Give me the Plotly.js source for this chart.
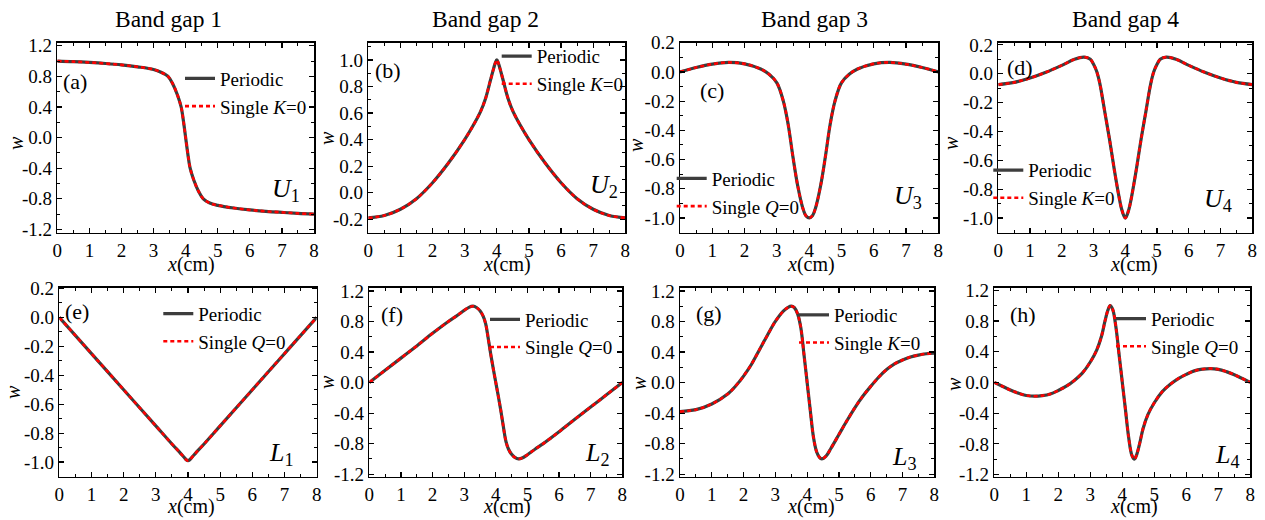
<!DOCTYPE html>
<html><head><meta charset="utf-8">
<script src="https://cdn.plot.ly/plotly-3.0.1.min.js"></script>
<style>html,body{margin:0;padding:0;background:#fff}#chart{width:1265px;height:520px}</style>
</head><body><div id="chart"></div>
<script>
// ---------- data ----------
const xU1 = [0,0.5,1,1.5,2,2.5,3,3.25,3.45,3.6,3.75,3.86,3.93,4,4.07,4.14,4.25,4.4,4.55,4.75,5,5.5,6,6.5,7,7.5,8];
const yU1 = [1.0,0.993,0.982,0.968,0.95,0.925,0.89,0.85,0.8,0.7,0.55,0.4,0.22,0.0,-0.22,-0.4,-0.55,-0.7,-0.8,-0.855,-0.885,-0.92,-0.945,-0.963,-0.977,-0.99,-1.0];

const xU2 = [0,0.5,1,1.5,2,2.5,3,3.25,3.5,3.65,3.8,3.9,3.95,4,4.05,4.1,4.2,4.35,4.5,4.75,5,5.5,6,6.5,7,7.5,8];
const yU2 = [-0.19,-0.172,-0.125,-0.045,0.075,0.225,0.4,0.5,0.615,0.71,0.845,0.935,0.975,1.0,0.975,0.935,0.845,0.71,0.615,0.5,0.4,0.225,0.075,-0.045,-0.125,-0.172,-0.19];

const xU3 = [0,0.5,1,1.5,2,2.5,2.75,3,3.2,3.35,3.5,3.65,3.8,3.9,4,4.1,4.2,4.35,4.5,4.65,4.8,5,5.25,5.5,6,6.5,7,7.5,8];
const yU3 = [0,0.03,0.053,0.065,0.055,0.02,-0.015,-0.075,-0.2,-0.36,-0.585,-0.785,-0.93,-0.985,-1.0,-0.985,-0.93,-0.785,-0.585,-0.36,-0.2,-0.075,-0.015,0.02,0.055,0.065,0.053,0.03,0];

const xU4 = [0,0.5,1,1.5,2,2.4,2.7,2.9,3,3.1,3.2,3.35,3.5,3.65,3.8,3.9,4,4.1,4.2,4.35,4.5,4.65,4.8,4.9,5,5.1,5.3,5.6,6,6.5,7,7.5,8];
const yU4 = [-0.075,-0.06,-0.03,0.01,0.058,0.1,0.115,0.1,0.065,0.015,-0.07,-0.26,-0.45,-0.66,-0.85,-0.95,-1.0,-0.95,-0.85,-0.66,-0.45,-0.26,-0.07,0.015,0.065,0.1,0.115,0.1,0.058,0.01,-0.03,-0.06,-0.075];

const xL1 = [0,1,2,3,3.5,3.75,3.85,3.95,4,4.05,4.15,4.25,4.5,5,6,7,8];
const yL1 = [0,-0.25,-0.5,-0.75,-0.875,-0.935,-0.96,-0.985,-0.99,-0.985,-0.96,-0.935,-0.875,-0.75,-0.5,-0.25,0];

const xL2 = [0,0.5,1,1.5,2,2.5,2.75,3,3.15,3.28,3.4,3.5,3.6,3.68,3.76,3.84,3.92,4,4.08,4.16,4.24,4.32,4.4,4.5,4.6,4.72,4.85,5,5.25,5.5,6,6.5,7,7.5,8];
const yL2 = [0,0.16,0.32,0.48,0.645,0.8,0.87,0.945,0.985,1.0,0.98,0.94,0.87,0.77,0.58,0.37,0.18,0,-0.18,-0.37,-0.58,-0.77,-0.87,-0.94,-0.98,-1.0,-0.985,-0.945,-0.87,-0.8,-0.645,-0.48,-0.32,-0.16,0];

const xL3 = [0,0.5,1,1.5,1.75,2,2.25,2.5,2.75,3,3.25,3.4,3.5,3.6,3.7,3.8,3.9,4,4.1,4.2,4.3,4.38,4.46,4.6,4.75,5,5.25,5.5,5.75,6,6.25,6.5,6.75,7,7.25,7.5,7.75,8];
const yL3 = [-0.38,-0.355,-0.28,-0.15,-0.045,0.085,0.24,0.43,0.62,0.8,0.935,0.985,1.0,0.98,0.9,0.72,0.37,0,-0.37,-0.72,-0.91,-0.975,-1.0,-0.96,-0.86,-0.68,-0.5,-0.33,-0.18,-0.05,0.07,0.17,0.245,0.295,0.335,0.36,0.377,0.385];

const xL4 = [0,0.25,0.5,0.75,1,1.25,1.5,1.75,2,2.25,2.5,2.75,3,3.2,3.35,3.46,3.55,3.62,3.7,3.8,3.9,4,4.1,4.2,4.3,4.38,4.45,4.54,4.65,4.8,5,5.25,5.5,5.75,6,6.25,6.5,6.75,7,7.25,7.5,7.75,8];
const yL4 = [0,-0.05,-0.1,-0.14,-0.17,-0.18,-0.172,-0.15,-0.105,-0.05,0.025,0.12,0.265,0.42,0.6,0.8,0.94,1.0,0.95,0.72,0.36,0,-0.36,-0.72,-0.95,-1.0,-0.94,-0.8,-0.6,-0.42,-0.265,-0.12,-0.025,0.05,0.105,0.15,0.172,0.18,0.17,0.14,0.1,0.05,0];

const xTickVals = [0,1,2,3,4,5,6,7,8];
const xTickText = ["0","1","2","3","4","5","6","7","8"];
const yTickVals12 = [-1.2,-0.8,-0.4,0,0.4,0.8,1.2];
const yTickText12 = ["-1.2","-0.8","-0.4","0.0","0.4","0.8","1.2"];
const yTickValsB = [-0.2,0,0.2,0.4,0.6,0.8,1.0];
const yTickTextB = ["-0.2","0.0","0.2","0.4","0.6","0.8","1.0"];
const yTickValsN = [-1.0,-0.8,-0.6,-0.4,-0.2,0,0.2];
const yTickTextN = ["-1.0","-0.8","-0.6","-0.4","-0.2","0.0","0.2"];

const columnTitles = ["Band gap 1","Band gap 2","Band gap 3","Band gap 4"];
const panelLetters = ["(a)","(b)","(c)","(d)","(e)","(f)","(g)","(h)"];
const modeLabels = ["<i>U</i><sub>1</sub>","<i>U</i><sub>2</sub>","<i>U</i><sub>3</sub>","<i>U</i><sub>4</sub>",
                    "<i>L</i><sub>1</sub>","<i>L</i><sub>2</sub>","<i>L</i><sub>3</sub>","<i>L</i><sub>4</sub>"];
const xTitle = "<i>x</i>(cm)";
const yTitle = "<i>w</i>";
const seriesA = "Periodic";
const seriesB = ["Single <i>K</i>=0","Single <i>K</i>=0","Single <i>Q</i>=0","Single <i>K</i>=0",
                 "Single <i>Q</i>=0","Single <i>Q</i>=0","Single <i>K</i>=0","Single <i>Q</i>=0"];

const panelX = [xU1,xU2,xU3,xU4,xL1,xL2,xL3,xL4];
const panelY = [yU1,yU2,yU3,yU4,yL1,yL2,yL3,yL4];

// ---------- layout geometry (pixels) ----------
const W = 1265, H = 520;
const FONT = "'Liberation Serif', 'Times New Roman', Times, serif";
const boxes = [
  [57.3,314,42.7,232.5],[368.3,625.3,42.7,232.5],[680,938.3,42.7,232.5],[998.3,1252.3,42.7,232.5],
  [59.3,316.7,287.5,476.5],[369.3,622.3,287.5,476.5],[680,934.3,287.5,476.5],[994.3,1250.3,287.5,476.5]
];
const yRanges = [[-1.24,1.24],[-0.3,1.13],[-1.1,0.2],[-1.1,0.215],[-1.1,0.207],[-1.23,1.245],[-1.23,1.245],[-1.225,1.235]];
const yTickSets = [[yTickVals12,yTickText12,0.2],[yTickValsB,yTickTextB,0.1],[yTickValsN,yTickTextN,0.1],[yTickValsN,yTickTextN,0.1],
                   [yTickValsN,yTickTextN,0.1],[yTickVals12,yTickText12,0.2],[yTickVals12,yTickText12,0.2],[yTickVals12,yTickText12,0.2]];
const legendPos = [[180,59.6],[496.7,37.2],[671.7,159.6],[988.3,151.2],[158.3,294.7],[485,300.5],[794,296],[1111,299.7]];
const letterPos = [[61,81],[372.7,70.5],[698,90],[1005,67],[63,311],[379,314],[694,313.5],[1008,314]];
const modePos = [[270,190],[588,186],[891.7,197],[1202,200],[266.7,454],[583,454],[890,458],[1213,456]];
const xTitlePos = [[191,264],[507,264],[811,264],[1134,264],[191,506],[507,506],[811,506],[1134,506]];
const yTitlePos = [[16,143],[327,138],[636,145],[951,143],[13,392],[327,382],[639,383],[954,384]];
const titlePos = [168,485,814.5,1125.7];

const px = v => v / W;
const py = v => 1 - v / H;

const traces = [];
const layout = {
  width: W, height: H,
  margin: {l:0, r:0, t:0, b:0},
  paper_bgcolor: "#fff", plot_bgcolor: "#fff",
  font: {family: FONT, color: "#000", size: 19},
  showlegend: true,
  annotations: [], hovermode: false
};

function addText(x, y, text, size, extra) {
  layout.annotations.push(Object.assign({xref:"paper", yref:"paper", x: px(x), y: py(y),
    xanchor:"center", yanchor:"middle", showarrow:false, text: text,
    font:{family:FONT, size:size, color:"#000"}}, extra || {}));
}

for (let i = 0; i < 8; i++) {
  const n = i + 1;
  const xa = "x" + (n === 1 ? "" : n), ya = "y" + (n === 1 ? "" : n);
  const lg = "legend" + (n === 1 ? "" : n);
  traces.push({x: panelX[i], y: panelY[i], xaxis: xa, yaxis: ya, type: "scatter", mode: "lines",
    name: seriesA, legend: lg, line: {color: "#3d3d3d", width: 3.2, shape: "spline", smoothing: 1}});
  traces.push({x: panelX[i], y: panelY[i], xaxis: xa, yaxis: ya, type: "scatter", mode: "lines",
    name: seriesB[i], legend: lg, line: {color: "#ff0000", width: 2.6, dash: "4px,3px", shape: "spline", smoothing: 1}});

  const b = boxes[i];
  const common = {showgrid:false, zeroline:false, showline:true, linecolor:"#000", linewidth:1.5,
    mirror:"allticks", ticks:"inside", ticklen:5, tickwidth:1.2, tickcolor:"#000",
    tickfont:{family:FONT, size:19, color:"#000"}, fixedrange:true};
  layout["xaxis" + (n === 1 ? "" : n)] = Object.assign({}, common, {
    domain: [px(b[0]), px(b[1])], anchor: ya, range: [0, 8],
    tickmode: "array", tickvals: xTickVals, ticktext: xTickText,
    minor: {dtick: 0.5, tick0: 0, ticks: "inside", ticklen: 3, tickwidth: 1, tickcolor: "#000", showgrid: false}
  });
  const ts = yTickSets[i];
  layout["yaxis" + (n === 1 ? "" : n)] = Object.assign({}, common, {
    domain: [py(b[3]), py(b[2])], anchor: xa, range: yRanges[i],
    tickmode: "array", tickvals: ts[0], ticktext: ts[1],
    minor: {dtick: ts[2], tick0: 0, ticks: "inside", ticklen: 3, tickwidth: 1, tickcolor: "#000", showgrid: false}
  });
  layout[lg] = {x: px(legendPos[i][0]), y: py(legendPos[i][1]), xanchor: "left", yanchor: "top",
    bgcolor: "rgba(0,0,0,0)", borderwidth: 0, itemwidth: 30, tracegroupgap: 0,
    font: {family: FONT, size: 19, color: "#000"}};
  addText(letterPos[i][0], letterPos[i][1], panelLetters[i], 22, {xanchor:"left"});
  addText(modePos[i][0], modePos[i][1], modeLabels[i], 26, {xanchor:"left"});
  addText(xTitlePos[i][0], xTitlePos[i][1], xTitle, 20);
  addText(yTitlePos[i][0], yTitlePos[i][1], yTitle, 20, {textangle: -90});
}
for (let c = 0; c < 4; c++) addText(titlePos[c], 19, columnTitles[c], 23.5);

Plotly.newPlot("chart", traces, layout, {staticPlot: true, displayModeBar: false});
</script></body></html>
